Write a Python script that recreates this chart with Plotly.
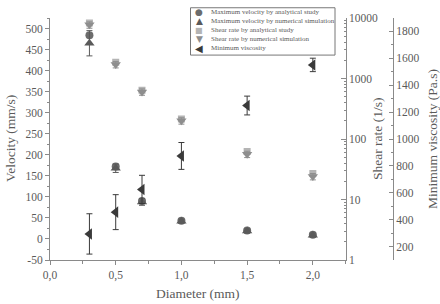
import plotly.graph_objects as go

diameter = [0.3, 0.5, 0.7, 1.0, 1.5, 2.0]
vel_analytical = [484, 172, 90, 43, 20, 10]
vel_numerical = [465, 168, 88, 42, 19, 9]
vel_num_err = [30, 10, 8, 5, 5, 5]
shear_analytical = [8300, 1850, 640, 215, 62, 27]
shear_numerical = [7700, 1700, 600, 200, 56, 24]
min_viscosity = [294, 456, 625, 874, 1249, 1551]
min_visc_err = [150, 130, 105, 100, 70, 50]

x_ticks = [0.0, 0.5, 1.0, 1.5, 2.0]
x_ticktext = ["0,0", "0,5", "1,0", "1,5", "2,0"]
vel_ticks = list(range(-50, 501, 50))
shear_ticks = [1, 10, 100, 1000, 10000]
visc_ticks = list(range(200, 1801, 200))

legend_names = [
    "Maximum velocity by analytical study",
    "Maximum velocity by numerical simulation",
    "Shear rate by analytical study",
    "Shear rate by numerical simulation",
    "Minimum viscosity",
]
legend_glyphs = ["●", "▲", "■", "▼", "◀"]
colors = ["#6c6c6c", "#5a5a5a", "#b4b4b4", "#8e8e8e", "#3a3a3a"]

FONT = "Liberation Serif"
AX = "#8a8a8a"
TXT = "#5a5a5a"

fig = go.Figure()
fig.add_trace(go.Scatter(x=diameter, y=vel_analytical, mode="markers", yaxis="y",
                         marker=dict(symbol="circle", size=8, color=colors[0]),
                         name=legend_names[0]))
fig.add_trace(go.Scatter(x=diameter, y=vel_numerical, mode="markers", yaxis="y",
                         marker=dict(symbol="triangle-up", size=9, color=colors[1]),
                         error_y=dict(type="data", array=vel_num_err, color=colors[1], thickness=1, width=3),
                         name=legend_names[1]))
fig.add_trace(go.Scatter(x=diameter, y=shear_analytical, mode="markers", yaxis="y2",
                         marker=dict(symbol="square", size=7, color=colors[2]),
                         name=legend_names[2]))
fig.add_trace(go.Scatter(x=diameter, y=shear_numerical, mode="markers", yaxis="y2",
                         marker=dict(symbol="triangle-down", size=9, color=colors[3]),
                         error_y=dict(type="percent", value=12, color=colors[3], thickness=1, width=3),
                         name=legend_names[3]))
fig.add_trace(go.Scatter(x=diameter, y=min_viscosity, mode="markers", yaxis="y3",
                         marker=dict(symbol="triangle-left", size=10, color=colors[4]),
                         error_y=dict(type="data", array=min_visc_err, color=colors[4], thickness=1, width=3),
                         name=legend_names[4]))

W, H = 440, 304
L, R, T, B = 50, 47, 12, 44
pw, ph = W - L - R, H - T - B
xdom_end = (345.7 - L) / pw

def px(xp):
    return (xp - L) / pw

def py(yp):
    return (H - B - yp) / ph

tickfont = dict(family=FONT, size=11.5, color=TXT)
fig.update_layout(
    width=W, height=H,
    margin=dict(l=L, r=R, t=T, b=B),
    paper_bgcolor="white", plot_bgcolor="white",
    showlegend=False,
    font=dict(family=FONT, color=TXT),
    xaxis=dict(domain=[0, xdom_end], range=[0, 2.25], showgrid=False, zeroline=False,
               showline=True, linecolor=AX, linewidth=1,
               tickvals=x_ticks, ticktext=x_ticktext, ticks="outside", ticklen=4,
               tickcolor=AX, tickfont=tickfont,
               minor=dict(dtick=0.25, tick0=0, ticks="outside", ticklen=3, tickcolor=AX)),
    yaxis=dict(range=[-50, 525], showgrid=False, zeroline=False, showline=True,
               linecolor=AX, linewidth=1, tickvals=vel_ticks,
               ticktext=[str(v) for v in vel_ticks], ticks="outside", ticklen=4,
               tickcolor=AX, tickfont=tickfont,
               minor=dict(dtick=25, tick0=0, ticks="outside", ticklen=2, tickcolor=AX)),
    yaxis2=dict(type="log", range=[0, 4], overlaying="y", side="right", anchor="x",
                showgrid=False, zeroline=False, showline=True, linecolor=AX, linewidth=1,
                tickvals=shear_ticks, ticktext=[str(v) for v in shear_ticks],
                ticks="inside", ticklen=5, tickcolor=AX, tickfont=tickfont,
                minor=dict(ticks="inside", ticklen=2, tickcolor=AX, dtick="D1")),
    yaxis3=dict(range=[100, 1900], overlaying="y", side="right", anchor="free", position=1.0,
                showgrid=False, zeroline=False, showline=True, linecolor=AX, linewidth=1,
                tickvals=visc_ticks, ticktext=[str(v) for v in visc_ticks],
                ticks="inside", ticklen=4, tickcolor=AX, tickfont=tickfont,
                minor=dict(dtick=100, tick0=0, ticks="inside", ticklen=2, tickcolor=AX)),
)

annotations = []
title_font = dict(family=FONT, size=13.5, color=TXT)
annotations.append(dict(text="Velocity (mm/s)", x=px(10), y=py(136), xref="paper", yref="paper",
                        textangle=-90, showarrow=False, font=title_font,
                        xanchor="center", yanchor="middle"))
annotations.append(dict(text="Diameter (mm)", x=px(198), y=py(294), xref="paper", yref="paper",
                        showarrow=False, font=title_font,
                        xanchor="center", yanchor="middle"))
annotations.append(dict(text="Shear rate (1/s)", x=px(377), y=py(136), xref="paper", yref="paper",
                        textangle=-90, showarrow=False, font=title_font,
                        xanchor="center", yanchor="middle"))
annotations.append(dict(text="Minimum viscosity (Pa.s)", x=px(432), y=py(136), xref="paper", yref="paper",
                        textangle=-90, showarrow=False, font=title_font,
                        xanchor="center", yanchor="middle"))

legend_y = [6, 15.5, 24.7, 33.8, 43]
glyph_sizes = [9, 9, 8, 9, 10]
for name, g, c, yy, gs in zip(legend_names, legend_glyphs, colors, legend_y, glyph_sizes):
    annotations.append(dict(text=g, x=px(199), y=py(yy), xref="paper", yref="paper",
                            showarrow=False, font=dict(family="DejaVu Sans", size=gs, color=c),
                            xanchor="center", yanchor="middle"))
    annotations.append(dict(text=name, x=px(209), y=py(yy), xref="paper", yref="paper",
                            showarrow=False, font=dict(family=FONT, size=7, color=TXT),
                            xanchor="left", yanchor="middle"))
fig.update_layout(annotations=annotations)
fig.add_shape(type="rect", xref="paper", yref="paper", x0=px(190.5), x1=px(335), y0=py(50), y1=py(1.5),
              line=dict(color="#777777", width=1), fillcolor="rgba(0,0,0,0)")

fig.write_html("out.html")
